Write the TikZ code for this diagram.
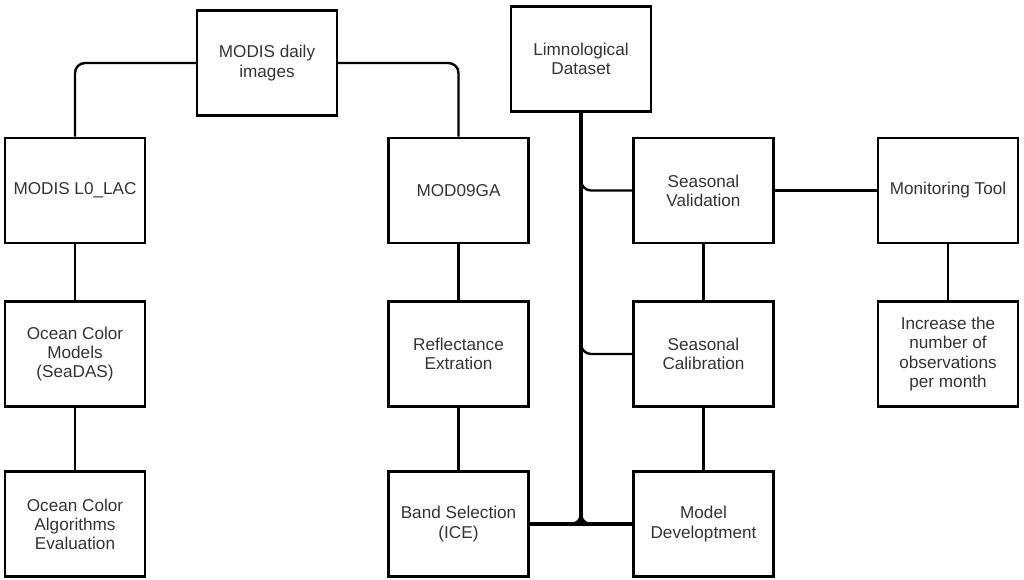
\documentclass[tikz,border=0pt]{standalone}
\usepackage{fontspec}
\setmainfont{Liberation Sans}

\begin{document}
\begin{tikzpicture}[x=0.025cm,y=-0.025cm,
    stage/.style={draw,line width=1.7pt,minimum width=3.5cm,minimum height=2.63cm,
        align=center,inner sep=2pt,text=black!80,
        font=\fontsize{12.2}{13.6}\selectfont},
    link/.style={line width=1.7pt,rounded corners=0.25cm},
    trunk/.style={line width=2.8pt}]
    %% Processing flow

    % Frame
    \useasboundingbox (0,0) rectangle (1024,579);

    % Parameters
    \def\colA{75}
    \def\colB{458.5}
    \def\colC{703.5}
    \def\colD{948}
    \def\rowA{190.5}
    \def\rowB{354}
    \def\rowC{524}

    % Sources
    \node[stage] (daily) at (267,63) {MODIS daily\\images};
    \node[stage] (limno) at (581,59) {Limnological\\Dataset};

    % First row
    \node[stage] (lac) at (\colA,\rowA) {MODIS L0\_LAC};
    \node[stage] (mod) at (\colB,\rowA) {MOD09GA};
    \node[stage] (valid) at (\colC,\rowA) {Seasonal\\Validation};
    \node[stage] (tool) at (\colD,\rowA) {Monitoring Tool};

    % Second row
    \node[stage] (models) at (\colA,\rowB) {Ocean Color\\Models\\(SeaDAS)};
    \node[stage] (refl) at (\colB,\rowB) {Reflectance\\Extration};
    \node[stage] (calib) at (\colC,\rowB) {Seasonal\\Calibration};
    \node[stage] (obs) at (\colD,\rowB) {Increase the\\number of\\observations\\per month};

    % Third row
    \node[stage] (eval) at (\colA,\rowC) {Ocean Color\\Algorithms\\Evaluation};
    \node[stage] (band) at (\colB,\rowC) {Band Selection\\(ICE)};
    \node[stage] (devel) at (\colC,\rowC) {Model\\Developtment};

    % Split of the daily images
    \draw[link] (daily.west) -| (lac.north);
    \draw[link] (daily.east) -| (mod.north);

    % Columns
    \draw[link] (lac) -- (models);
    \draw[link] (models) -- (eval);
    \draw[link] (mod) -- (refl);
    \draw[link] (refl) -- (band);
    \draw[link] (valid) -- (calib);
    \draw[link] (calib) -- (devel);
    \draw[link] (tool) -- (obs);
    \draw[link] (valid) -- (tool);

    % Limnological branches
    \coordinate (hub) at (limno.south |- devel.west);
    \draw[trunk] (limno.south) -- (hub);
    \draw[link] (limno.south) |- (valid.west);
    \draw[link] (limno.south) |- (calib.west);
    \draw[link] (limno.south) |- (devel.west);
    \draw[link] (band.east) -| (limno.south);
    \draw[link,line width=2.2pt] (band.east) -- (devel.west);

\end{tikzpicture}
\end{document}
